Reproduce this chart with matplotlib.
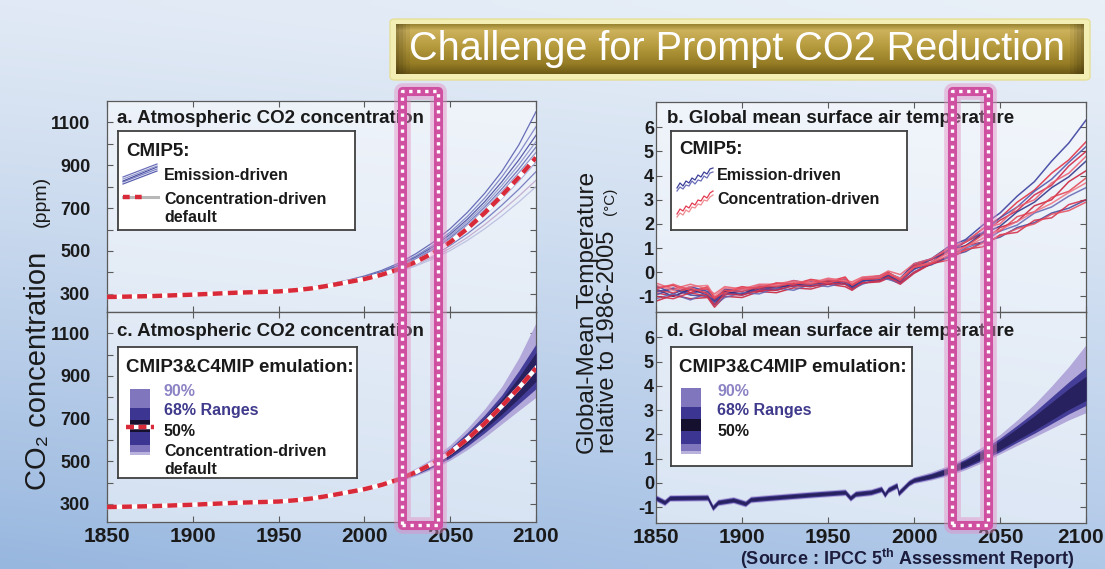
import numpy as np
import matplotlib
matplotlib.use('Agg')
import matplotlib.pyplot as plt
from matplotlib import font_manager, transforms
from matplotlib.patches import Rectangle, FancyBboxPatch
from matplotlib.colors import to_rgb

# ---------------- data ----------------
x_ticks = [1850, 1900, 1950, 2000, 2050, 2100]
co2_ticks = [300, 500, 700, 900, 1100]
co2_minor = [400, 600, 800, 1000]
temp_ticks = [-1, 0, 1, 2, 3, 4, 5, 6]
highlight_years = [2022, 2043]

years_co2 = [1850, 1875, 1900, 1925, 1950, 1960, 1970, 1980, 1990, 2000,
             2010, 2020, 2030, 2040, 2050, 2060, 2070, 2080, 2090, 2100]
conc_default = [285, 289, 296, 305, 311, 317, 326, 339, 354, 369,
                389, 415, 449, 490, 541, 604, 677, 758, 844, 936]

em1 = [285, 289, 297, 307, 315, 322, 332, 346, 363, 383, 409, 443, 487, 540, 604, 680, 768, 870, 995, 1150]
em2 = [285, 289, 296, 306, 314, 321, 331, 345, 361, 380, 404, 436, 477, 527, 588, 661, 746, 845, 955, 1080]
em3 = [285, 289, 296, 306, 313, 320, 330, 344, 360, 378, 401, 432, 471, 519, 578, 648, 729, 822, 925, 1040]
em4 = [285, 288, 296, 305, 313, 320, 329, 343, 359, 376, 398, 428, 466, 513, 570, 638, 716, 805, 903, 1010]
em5 = [285, 288, 296, 305, 312, 319, 329, 342, 358, 374, 395, 424, 461, 507, 562, 628, 704, 789, 882, 985]
em6 = [285, 288, 295, 305, 312, 319, 328, 342, 357, 373, 393, 421, 457, 501, 555, 619, 693, 775, 865, 960]
em7 = [285, 288, 295, 304, 312, 318, 328, 341, 356, 372, 391, 418, 453, 496, 548, 610, 682, 762, 848, 940]
em8 = [285, 288, 295, 304, 311, 318, 327, 340, 355, 370, 389, 415, 448, 489, 539, 598, 667, 744, 826, 915]
em9 = [285, 288, 295, 304, 311, 317, 326, 339, 354, 368, 386, 411, 442, 480, 526, 580, 643, 713, 788, 870]
em10 = [285, 288, 294, 303, 310, 316, 325, 338, 353, 367, 384, 407, 436, 471, 513, 563, 622, 687, 756, 830]
em11 = [285, 288, 294, 303, 310, 316, 325, 337, 352, 365, 381, 403, 430, 463, 502, 549, 603, 663, 729, 800]
emission_co2 = [em1, em2, em3, em4, em5, em6, em7, em8, em9, em10, em11]

c90_lo = [283, 287, 294, 303, 309, 315, 324, 337, 352, 366, 383, 405, 432, 464, 505, 555, 612, 675, 738, 800]
c90_hi = [287, 291, 298, 307, 313, 319, 328, 341, 356, 372, 396, 428, 468, 515, 577, 655, 745, 850, 985, 1150]
c68_lo = [284, 288, 295, 304, 310, 316, 325, 338, 353, 367, 385, 409, 438, 472, 516, 571, 633, 700, 770, 840]
c68_hi = [286, 290, 297, 306, 312, 318, 327, 340, 355, 371, 393, 423, 460, 505, 562, 635, 717, 810, 925, 1050]
c50_lo = [284.5, 288.5, 295.5, 304.5, 310.5, 316.5, 325.5, 338.5, 353.5, 368, 387, 412, 443, 479, 526, 585, 650, 720, 795, 875]
c50_hi = [285.5, 289.5, 296.5, 305.5, 311.5, 317.5, 326.5, 339.5, 354.5, 370, 391, 420, 455, 498, 553, 622, 700, 790, 895, 1010]

years_temp = [1850, 1860, 1870, 1880, 1884, 1890, 1900, 1910, 1920, 1930, 1940, 1950, 1960, 1964,
              1970, 1980, 1985, 1992, 2000, 2010, 2020, 2030, 2040, 2050, 2060, 2070, 2080, 2090, 2100]
tb1 = [-0.55, -0.9, -0.6, -0.8, -1.15, -0.7, -0.8, -0.55, -0.6, -0.35, -0.5, -0.3, -0.4, -0.55, -0.25, -0.2, -0.05, -0.25, 0.35, 0.55, 1.05, 1.35, 1.95, 2.45, 3.15, 3.75, 4.6, 5.35, 6.3]
tb2 = [-0.95, -0.65, -0.9, -0.7, -1.25, -0.95, -0.7, -0.8, -0.55, -0.6, -0.4, -0.5, -0.3, -0.65, -0.4, -0.15, -0.25, -0.3, 0.1, 0.55, 0.8, 1.3, 1.65, 2.25, 2.7, 3.35, 3.85, 4.55, 5.2]
tb3 = [-0.7, -1.0, -0.7, -0.95, -1.35, -0.8, -0.9, -0.6, -0.65, -0.5, -0.55, -0.35, -0.45, -0.6, -0.35, -0.3, -0.15, -0.4, 0.25, 0.4, 0.9, 1.1, 1.6, 1.9, 2.5, 2.9, 3.5, 3.95, 4.6]
tb4 = [-1.1, -0.9, -1.15, -0.85, -1.35, -1.05, -0.85, -0.9, -0.65, -0.75, -0.5, -0.6, -0.4, -0.7, -0.5, -0.25, -0.3, -0.45, 0.0, 0.4, 0.6, 1.0, 1.25, 1.7, 1.95, 2.45, 2.7, 3.15, 3.5]
tb5 = [-0.8, -0.7, -0.95, -1.0, -1.2, -0.85, -0.95, -0.7, -0.75, -0.55, -0.6, -0.45, -0.5, -0.65, -0.35, -0.35, -0.15, -0.4, 0.15, 0.3, 0.65, 0.85, 1.25, 1.45, 1.85, 2.05, 2.45, 2.65, 3.0]
tr1 = [-0.65, -0.55, -0.85, -0.6, -1.05, -0.8, -0.6, -0.7, -0.45, -0.5, -0.3, -0.4, -0.2, -0.55, -0.25, -0.15, 0.0, -0.3, 0.3, 0.5, 0.95, 1.25, 1.8, 2.25, 2.9, 3.4, 4.1, 4.65, 5.4]
tr2 = [-0.85, -1.0, -0.75, -0.85, -1.2, -0.8, -0.9, -0.65, -0.7, -0.45, -0.5, -0.35, -0.45, -0.6, -0.3, -0.25, -0.1, -0.35, 0.15, 0.55, 0.8, 1.25, 1.6, 2.15, 2.55, 3.2, 3.6, 4.4, 5.0]
tr3 = [-0.45, -0.7, -0.5, -0.7, -0.9, -0.6, -0.7, -0.5, -0.5, -0.35, -0.45, -0.25, -0.35, -0.4, -0.2, -0.15, 0.05, -0.1, 0.35, 0.55, 1.0, 1.25, 1.8, 2.0, 2.7, 3.0, 3.7, 4.1, 4.8]
tr4 = [-1.2, -0.95, -1.1, -1.05, -1.45, -1.0, -1.05, -0.8, -0.85, -0.65, -0.7, -0.5, -0.6, -0.75, -0.45, -0.4, -0.25, -0.5, -0.05, 0.35, 0.6, 1.1, 1.25, 1.85, 2.1, 2.75, 3.0, 3.75, 4.2]
tr5 = [-0.75, -0.85, -0.65, -0.9, -1.1, -0.75, -0.8, -0.6, -0.6, -0.45, -0.5, -0.35, -0.4, -0.5, -0.3, -0.25, -0.05, -0.3, 0.25, 0.4, 0.85, 1.05, 1.55, 1.7, 2.3, 2.5, 3.1, 3.35, 3.9]
tr6 = [-0.55, -0.75, -0.6, -0.55, -1.0, -0.65, -0.75, -0.55, -0.55, -0.4, -0.45, -0.3, -0.35, -0.45, -0.25, -0.2, -0.05, -0.25, 0.2, 0.4, 0.8, 1.05, 1.4, 1.75, 2.1, 2.5, 2.85, 3.3, 3.7]
tr7 = [-1.0, -1.1, -0.85, -1.0, -1.35, -0.9, -0.95, -0.75, -0.75, -0.55, -0.6, -0.45, -0.5, -0.7, -0.45, -0.35, -0.2, -0.45, 0.0, 0.35, 0.5, 0.95, 1.05, 1.55, 1.65, 2.15, 2.25, 2.8, 3.0]
tr8 = [-0.7, -0.5, -0.75, -0.7, -1.05, -0.85, -0.65, -0.65, -0.45, -0.5, -0.35, -0.45, -0.25, -0.55, -0.3, -0.25, -0.05, -0.35, 0.2, 0.35, 0.7, 0.9, 1.2, 1.5, 1.8, 2.0, 2.4, 2.55, 2.9]
temp_emission = [tb1, tb2, tb3, tb4, tb5]
temp_concentration = [tr1, tr2, tr3, tr4, tr5, tr6, tr7, tr8]

years_emul_t = [1850, 1855, 1858, 1880, 1883, 1886, 1895, 1902, 1905, 1915, 1940, 1960, 1963, 1966, 1975,
                1981, 1983, 1985, 1990, 1991, 1993, 1997, 2000, 2010, 2020, 2030, 2040, 2050, 2060, 2070,
                2080, 2090, 2100]
t90_hi = [-0.48, -0.66, -0.48, -0.46, -0.88, -0.66, -0.56, -0.71, -0.54, -0.48, -0.34, -0.24, -0.48, -0.31, -0.24,
          -0.11, -0.34, -0.14, 0.04, -0.28, -0.14, 0.14, 0.26, 0.46, 0.72, 1.08, 1.50, 2.00, 2.60, 3.25, 4.00, 4.80, 5.70]
t90_lo = [-0.76, -0.94, -0.76, -0.74, -1.16, -0.94, -0.84, -0.99, -0.82, -0.76, -0.62, -0.52, -0.76, -0.59, -0.52,
          -0.39, -0.62, -0.42, -0.24, -0.56, -0.42, -0.14, -0.02, 0.12, 0.30, 0.55, 0.85, 1.20, 1.55, 1.90, 2.25, 2.60, 2.90]
t68_hi = [-0.52, -0.70, -0.52, -0.50, -0.92, -0.70, -0.60, -0.75, -0.58, -0.52, -0.38, -0.28, -0.52, -0.35, -0.28,
          -0.15, -0.38, -0.18, 0.00, -0.32, -0.18, 0.10, 0.22, 0.40, 0.65, 0.99, 1.39, 1.85, 2.38, 2.93, 3.55, 4.17, 4.75]
t68_lo = [-0.72, -0.90, -0.72, -0.70, -1.12, -0.90, -0.80, -0.95, -0.78, -0.72, -0.58, -0.48, -0.72, -0.55, -0.48,
          -0.35, -0.58, -0.38, -0.20, -0.52, -0.38, -0.10, 0.02, 0.17, 0.36, 0.63, 0.94, 1.29, 1.68, 2.05, 2.45, 2.85, 3.20]
t50_hi = [-0.56, -0.74, -0.56, -0.54, -0.96, -0.74, -0.64, -0.79, -0.62, -0.56, -0.42, -0.32, -0.56, -0.39, -0.32,
          -0.19, -0.42, -0.22, -0.04, -0.36, -0.22, 0.06, 0.18, 0.36, 0.60, 0.93, 1.31, 1.75, 2.25, 2.77, 3.33, 3.89, 4.40]
t50_lo = [-0.68, -0.86, -0.68, -0.66, -1.08, -0.86, -0.76, -0.91, -0.74, -0.68, -0.54, -0.44, -0.68, -0.51, -0.44,
          -0.31, -0.54, -0.34, -0.16, -0.48, -0.34, -0.06, 0.06, 0.21, 0.41, 0.69, 1.01, 1.38, 1.78, 2.17, 2.60, 3.03, 3.40]

# ---------------- style ----------------
plt.rcParams['font.family'] = ['Liberation Sans', 'DejaVu Sans']
plt.rcParams['axes.unicode_minus'] = False
plt.rcParams['mathtext.fontset'] = 'custom'
plt.rcParams['mathtext.rm'] = 'Liberation Sans:bold'
plt.rcParams['mathtext.it'] = 'Liberation Sans:bold'
plt.rcParams['mathtext.bf'] = 'Liberation Sans:bold'

names = {f.name for f in font_manager.fontManager.ttflist}
narrow = 'Liberation Sans Narrow' in names

W, H = 1105, 569
fig = plt.figure(figsize=(W / 100, H / 100), dpi=100)


def fx(x):
    return x / W


def fy(y):
    return 1 - y / H


def add_ax(l, t, r, b, **kw):
    return fig.add_axes([fx(l), fy(b), (r - l) / W, (b - t) / H], **kw)


# background gradient
ny, nx = 60, 110
tl, tr_, bl, br = (np.array(to_rgb(c)) for c in ('#e0e9f5', '#e9f0f8', '#98b7df', '#b0c8e8'))
u = np.linspace(0, 1, nx)[None, :, None]
v = (np.linspace(0, 1, ny) ** 1.2)[:, None, None]
img = (1 - v) * ((1 - u) * tl + u * tr_) + v * ((1 - u) * bl + u * br)
bg = fig.add_axes([0, 0, 1, 1], zorder=-5)
bg.imshow(img, aspect='auto', extent=[0, 1, 0, 1], origin='upper', interpolation='bilinear')
bg.set_axis_off()

TXT = '#1a1a1a'
EDGE = '#5a5a5a'
COL90, COL68, COL50 = '#b3a8da', '#453e99', '#28215f'
LEG90, LEG68, LEG50 = '#7f76bd', '#3d3592', '#15102e'
RED = '#d92a3a'


def style(ax, ylim, yticks, minor, left_pad, xlabels):
    ax.set_xlim(1850, 2100)
    ax.set_ylim(*ylim)
    ax.set_facecolor((1, 1, 1, 0.55))
    ax.set_xticks(x_ticks)
    ax.set_yticks(yticks)
    if minor:
        ax.set_yticks(minor, minor=True)
    ax.tick_params(which='both', direction='in', top=True, right=True, length=4, width=0.8, color=EDGE)
    ax.tick_params(axis='y', labelsize=13, pad=left_pad, labelcolor=TXT)
    ax.tick_params(axis='x', labelsize=15, pad=3.5, labelbottom=xlabels, labelcolor=TXT)
    for lab in ax.get_xticklabels() + ax.get_yticklabels():
        lab.set_fontweight('bold')
    for sp in ax.spines.values():
        sp.set_color(EDGE)
        sp.set_linewidth(0.9)


ax_a = add_ax(107, 101, 536, 312)
ax_c = add_ax(107, 312, 536, 522)
ax_b = add_ax(656, 102, 1086, 312)
ax_d = add_ax(656, 312, 1086, 523)
style(ax_a, (215, 1200), co2_ticks, co2_minor, 12, False)
style(ax_c, (215, 1200), co2_ticks, co2_minor, 12, True)
style(ax_b, (-1.65, 7.05), temp_ticks, None, 1.5, False)
style(ax_d, (-1.65, 7.05), temp_ticks, None, 1.5, True)
# keep the last year label of the right panel inside the picture
last = ax_d.xaxis.get_major_ticks()[-1].label1
last.set_transform(last.get_transform() + transforms.ScaledTranslation(-5 / 100, 0, fig.dpi_scale_trans))

# panel a
em_colors = ['#5a60b0', '#7b80c4', '#4a4fa2', '#9196cc', '#6a6fb8', '#8a8fc8', '#5c62ae', '#a3a7d6', '#6f74bb', '#c0a8cc', '#b8bde0']
for e, c in zip(emission_co2, em_colors):
    ax_a.plot(years_co2, e, color=c, lw=0.9, alpha=0.9, zorder=2)
ax_a.plot(years_co2, conc_default, color='white', lw=3.2, zorder=4)
ax_a.plot(years_co2, conc_default, color=RED, lw=3.2, ls=(0, (2.2, 1.2)), zorder=5)

# panel c
ax_c.fill_between(years_co2, c90_lo, c90_hi, color=COL90, lw=0, zorder=2)
ax_c.fill_between(years_co2, c68_lo, c68_hi, color=COL68, lw=0, zorder=3)
ax_c.fill_between(years_co2, c50_lo, c50_hi, color=COL50, lw=0, zorder=3)
ax_c.plot(years_co2, conc_default, color='white', lw=3.2, zorder=4)
ax_c.plot(years_co2, conc_default, color=RED, lw=3.2, ls=(0, (2.2, 1.2)), zorder=5)

# panel b
red_cols = ['#e0283c', '#d01e3e', '#ec5c6c', '#c81a36', '#e4404e', '#f07080', '#d42a44', '#e64a5c']
blue_cols = ['#34389a', '#4a50a8', '#2a2e86', '#6266b4', '#3e4298']
for i in range(8):
    ax_b.plot(years_temp, temp_concentration[i], color=red_cols[i], lw=1.1, alpha=0.85, zorder=2)
    if i < 5:
        ax_b.plot(years_temp, temp_emission[i], color=blue_cols[i], lw=1.1, alpha=0.85, zorder=2)

# panel d
ax_d.fill_between(years_emul_t, t90_lo, t90_hi, color=COL90, lw=0, zorder=2)
ax_d.fill_between(years_emul_t, t68_lo, t68_hi, color=COL68, lw=0, zorder=3)
ax_d.fill_between(years_emul_t, t50_lo, t50_hi, color=COL50, lw=0, zorder=3)

# panel titles
for (x, y, s) in [(117, 118, 'a. Atmospheric CO2 concentration'),
                  (117, 331, 'c. Atmospheric CO2 concentration'),
                  (667, 118, 'b. Global mean surface air temperature'),
                  (667, 331, 'd. Global mean surface air temperature')]:
    fig.text(fx(x), fy(y), s, fontsize=13.5, fontweight='bold', color=TXT, ha='left', va='center', zorder=5)


def legend_box(l, t, r, b):
    lax = add_ax(l, t, r, b, zorder=3)
    lax.set_xlim(0, r - l)
    lax.set_ylim(b - t, 0)
    lax.set_facecolor('white')
    lax.set_xticks([])
    lax.set_yticks([])
    for sp in lax.spines.values():
        sp.set_color('#404040')
        sp.set_linewidth(1.3)
    return lax


def ltext(lax, x, y, s, size=11.5, color=TXT):
    lax.text(x, y, s, fontsize=size, fontweight='bold', color=color, ha='left', va='center')


# legend a
la = legend_box(118, 131, 355, 230)
ltext(la, 8, 21, 'CMIP5:', 13.5)
ltext(la, 46, 44, 'Emission-driven')
ltext(la, 46, 68, 'Concentration-driven')
ltext(la, 46, 87, 'default')
icon_y0 = [53, 51, 50, 48, 46]
icon_y1 = [40, 38, 36, 35, 33]
for y0, y1, c in zip(icon_y0, icon_y1, em_colors):
    la.plot([5, 39], [y0, y1], color=c, lw=0.9)
la.plot([5, 40], [66, 66], color='#b8b8b8', lw=2.2)
la.plot([5, 26], [66, 66], color=RED, lw=3.2, ls=(0, (1.5, 1.2)))

# legend c
lc = legend_box(118, 347, 357, 478)
ltext(lc, 8, 20, 'CMIP3&C4MIP emulation:', 13.5)
ltext(lc, 46, 44, '90%', color='#8c84c4')
ltext(lc, 46, 63, '68% Ranges', color='#3f3a8c')
ltext(lc, 46, 84, '50%')
ltext(lc, 46, 104, 'Concentration-driven')
ltext(lc, 46, 122, 'default')
bar_segments_c = [(42, 61, LEG90), (61, 73, LEG68), (73, 85, LEG50), (85, 98, LEG68), (98, 105, LEG90), (105, 108, '#b8b2dc')]
for y0, y1, c in bar_segments_c:
    lc.add_patch(Rectangle((12, y0), 20, y1 - y0, color=c, lw=0))
lc.plot([8, 36], [80, 80], color='white', lw=3.2)
lc.plot([8, 36], [80, 80], color=RED, lw=3.2, ls=(0, (1.8, 1.0)))

# legend b
lb = legend_box(671, 131, 907, 230)
ltext(lb, 8, 19, 'CMIP5:', 13.5)
ltext(lb, 46, 44, 'Emission-driven')
ltext(lb, 46, 68, 'Concentration-driven')
squig_x = [6, 9, 12, 15, 18, 21, 24, 27, 30, 33, 36, 39, 42]
squig_b1 = [57, 52, 55, 50, 52, 47, 49, 44, 46, 41, 43, 38, 37]
squig_b2 = [60, 56, 58, 54, 55, 50, 53, 49, 50, 45, 47, 42, 41]
squig_r1 = [83, 78, 80, 75, 77, 72, 74, 69, 70, 65, 67, 62, 60]
squig_r2 = [86, 82, 84, 79, 81, 76, 77, 73, 74, 69, 70, 66, 64]
lb.plot(squig_x, squig_b1, color='#3c3f98', lw=0.9)
lb.plot(squig_x, squig_b2, color='#6a6eb8', lw=0.9)
lb.plot(squig_x, squig_r1, color='#e23a50', lw=0.9)
lb.plot(squig_x, squig_r2, color='#ef8a90', lw=0.9)

# legend d
ld = legend_box(671, 347, 912, 466)
ltext(ld, 8, 20, 'CMIP3&C4MIP emulation:', 13.5)
ltext(ld, 46, 44, '90%', color='#8c84c4')
ltext(ld, 46, 63, '68% Ranges', color='#3f3a8c')
ltext(ld, 46, 84, '50%')
bar_segments_d = [(41, 60, LEG90), (60, 72, LEG68), (72, 84, LEG50), (84, 97, LEG68), (97, 104, LEG90), (104, 107, '#b8b2dc')]
for y0, y1, c in bar_segments_d:
    ld.add_patch(Rectangle((10, y0), 20, y1 - y0, color=c, lw=0))

# axis labels
lab_kw = dict(rotation=90, rotation_mode='anchor', va='baseline', color=TXT)
fig.text(fx(46), fy(490), 'CO\u2082 concentration', ha='left', fontsize=21, **lab_kw)
fig.text(fx(46), fy(176), '(ppm)', ha='right', fontsize=14, **lab_kw)
fig.text(fx(594), fy(313), 'Global-Mean Temperature', ha='center', fontsize=17.6, **lab_kw)
fig.text(fx(614), fy(453), 'relative to 1986-2005', ha='left', fontsize=17, **lab_kw)
fig.text(fx(614), fy(188), '(\u00b0C)', ha='right', fontsize=11, **lab_kw)

fig.text(fx(907), fy(559), r'(Source : IPCC 5$^{\rm th}$ Assessment Report)', ha='center', va='center',
         fontsize=13, fontweight='bold', color='#1c1c3c')

# highlight rectangles
for ax in (ax_c, ax_d):
    trf = transforms.blended_transform_factory(ax.transData, fig.transFigure)
    y0, y1 = fy(525), fy(91)
    for lw, col, ls, al in [(12, '#e48cc4', '-', 0.45), (6.5, '#cf4fa0', '-', 1.0), (2.4, 'white', (0, (1, 1.4)), 1.0)]:
        r = Rectangle((highlight_years[0], y0), highlight_years[1] - highlight_years[0], y1 - y0,
                      transform=trf, fill=False, ec=col, lw=lw, ls=ls, alpha=al,
                      joinstyle='round', zorder=20, clip_on=False)
        fig.add_artist(r)

# title box
outer = FancyBboxPatch((fx(390), fy(80)), (1090 - 390) / W, (80 - 19) / H,
                       boxstyle='round,pad=0,rounding_size=0.005', transform=fig.transFigure,
                       fc='#f3efb4', ec='#e6df98', lw=1, zorder=6)
fig.add_artist(outer)
tax = add_ax(396, 24, 1084, 74, zorder=7)
stops = [0.0, 0.12, 0.45, 0.8, 1.0]
cols = np.array([to_rgb(c) for c in ('#9a8533', '#cdb25c', '#b59a3d', '#957c25', '#6e5a16')])
vv = np.linspace(0, 1, 50)
grad = np.stack([np.interp(vv, stops, cols[:, k]) for k in range(3)], axis=1)
hh = np.linspace(0, 1, 200)
shade = 1 - 0.25 * np.clip(1 - hh / 0.02, 0, 1) - 0.25 * np.clip(1 - (1 - hh) / 0.02, 0, 1)
gimg = grad[:, None, :] * shade[None, :, None]
tax.imshow(gimg, aspect='auto', extent=[0, 1, 0, 1], origin='upper')
tax.set_axis_off()
if narrow:
    fig.text(fx(737), fy(49), 'Challenge for Prompt CO2 Reduction', family='Liberation Sans Narrow',
             fontweight='bold', fontsize=32, color='white', ha='center', va='center', zorder=8)
else:
    fig.text(fx(737), fy(49), 'Challenge for Prompt CO2 Reduction', fontsize=28.5, color='white',
             ha='center', va='center', zorder=8)

fig.savefig('out.png', dpi=100)
